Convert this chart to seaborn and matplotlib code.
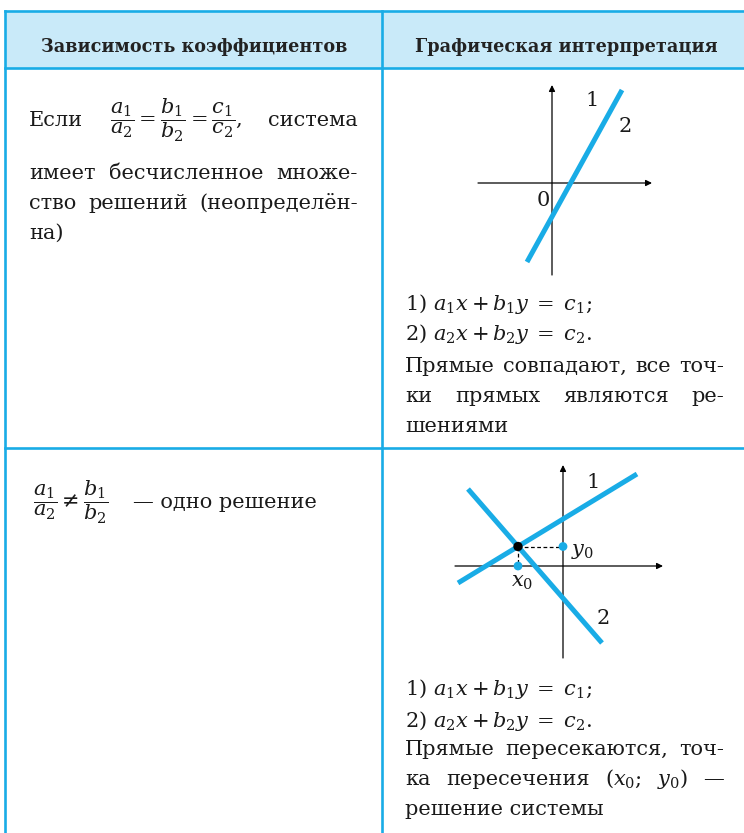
import matplotlib
matplotlib.use("Agg")
import matplotlib.pyplot as plt
from matplotlib.patches import Rectangle
from matplotlib.lines import Line2D
import seaborn as sns

W, H = 744, 833
sns.set_theme(style="white")
plt.rcParams["font.family"] = ["DejaVu Serif"]
plt.rcParams["mathtext.fontset"] = "dejavuserif"

# ---------------- data ----------------
header_labels = ["Зависимость коэффициентов", "Графическая интерпретация"]

row1_left = [
    (["Если", r"$\dfrac{a_1}{a_2}=\dfrac{b_1}{b_2}=\dfrac{c_1}{c_2}$,", "система"], True),
    (["имеет", "бесчисленное", "множе-"], True),
    (["ство", "решений", "(неопределён-"], True),
    (["на)"], False),
]
row1_right = [
    ([r"1) $a_1x+b_1y\;=\;c_1$;"], False),
    ([r"2) $a_2x+b_2y\;=\;c_2$."], False),
    (["Прямые", "совпадают,", "все", "точ-"], True),
    (["ки", "прямых", "являются", "ре-"], True),
    (["шениями"], False),
]
row2_left_formula = r"$\dfrac{a_1}{a_2}\neq\dfrac{b_1}{b_2}$"
row2_left_text = "— одно решение"
row2_right = [
    ([r"1) $a_1x+b_1y\;=\;c_1$;"], False),
    ([r"2) $a_2x+b_2y\;=\;c_2$."], False),
    (["Прямые", "пересекаются,", "точ-"], True),
    (["ка", "пересечения", r"($x_0$;", r"$y_0$)", "—"], True),
    (["решение", "системы"], False),
]

# diagram 1: coinciding lines (axis units)
coinc_x = [-2.5, 7.0]
coinc_y = [-7.9, 9.3]
d1_xaxis = [-7.4, 10.0]
d1_yaxis = [-9.2, 9.8]
d1_labels = [("1", 4.0, 8.3), ("2", 7.3, 5.6), ("0", -0.9, -1.7)]

# diagram 2: intersecting lines
line1_x = [-10.5, 7.4]
line1_y = [-1.7, 9.2]
line2_x = [-9.5, 3.9]
line2_y = [7.7, -7.7]
x0_val, y0_val = -4.5, 1.95
d2_xaxis = [-10.8, 10.0]
d2_yaxis = [-9.2, 10.1]
d2_labels = [("1", 3.0, 8.4), ("2", 4.0, -5.2)]

BLUE = "#19ace6"
HEAD = "#c9eaf9"
INK = "#1a1a1a"

# ---------------- figure ----------------
fig = plt.figure(figsize=(W / 100, H / 100), dpi=100)
fig.patch.set_facecolor("white")
R = fig.canvas.get_renderer()


def P(x, y):
    return (x / W, 1 - y / H)


# table
fig.patches.append(Rectangle(P(5, 68), (W - 5) / W, 57 / H, transform=fig.transFigure,
                             facecolor=HEAD, edgecolor="none", zorder=0))
blw = 1.9
for (xa, ya, xb, yb) in [(5, 11, W + 5, 11), (5, 68, W + 5, 68), (5, 448, W + 5, 448),
                         (5, 11, 5, H + 5), (382, 11, 382, H + 5)]:
    fig.add_artist(Line2D([xa / W, xb / W], [1 - ya / H, 1 - yb / H], transform=fig.transFigure,
                          color=BLUE, lw=blw, solid_capstyle="projecting"))


def fit_size(s, target, **kw):
    t = fig.text(0, 0, s, fontsize=10, **kw)
    w = t.get_window_extent(R).width
    t.remove()
    return 10 * target / w


BODY = fit_size("шениями", 103)
HSZ = fit_size(header_labels[0], 304, fontweight="bold")

fig.text(*P(194, 47), header_labels[0], fontsize=HSZ, fontweight="bold", ha="center",
         va="center", color="#222222")
fig.text(*P(566, 47), header_labels[1], fontsize=HSZ, fontweight="bold", ha="center",
         va="center", color="#222222")


def place(segments, justify, x_left, x_right, y_base, size=BODY):
    if not justify:
        fig.text(*P(x_left, y_base), " ".join(segments), fontsize=size, va="baseline",
                 ha="left", color=INK)
        return
    texts = [fig.text(*P(x_left, y_base), s, fontsize=size, va="baseline", ha="left",
                      color=INK) for s in segments]
    widths = [t.get_window_extent(R).width for t in texts]
    gap = (x_right - x_left - sum(widths)) / max(len(texts) - 1, 1)
    x = x_left
    for t, w in zip(texts, widths):
        t.set_position(P(x, y_base))
        x += w + gap


for (seg, j), yb in zip(row1_left, [126, 179, 209, 239]):
    place(seg, j, 29, 358, yb)
for (seg, j), yb in zip(row1_right, [310, 340, 372, 402, 432]):
    place(seg, j, 405, 724, yb)
for (seg, j), yb in zip(row2_right, [695, 727, 755, 785, 815]):
    place(seg, j, 405, 724, yb)
fig.text(*P(33, 508), row2_left_formula, fontsize=BODY, va="baseline", ha="left", color=INK)
fig.text(*P(133, 508), row2_left_text, fontsize=BODY, va="baseline", ha="left", color=INK)


def diagram(box, origin):
    x0p, y0p, x1p, y1p = box
    ox, oy = origin
    ax = fig.add_axes([x0p / W, 1 - y1p / H, (x1p - x0p) / W, (y1p - y0p) / H])
    ax.set_xlim((x0p - ox) / 10, (x1p - ox) / 10)
    ax.set_ylim((oy - y1p) / 10, (oy - y0p) / 10)
    ax.set_axis_off()
    ax.patch.set_alpha(0)
    return ax


def axes_arrows(ax, xr, yr):
    ap = dict(arrowstyle="-|>", color="black", lw=0.9, mutation_scale=9, shrinkA=0, shrinkB=0)
    ax.annotate("", xy=(xr[1], 0), xytext=(xr[0], 0), arrowprops=ap)
    ax.annotate("", xy=(0, yr[1]), xytext=(0, yr[0]), arrowprops=ap)


# diagram 1
ax1 = diagram((470, 80, 660, 280), (552, 183))
axes_arrows(ax1, d1_xaxis, d1_yaxis)
sns.lineplot(x=coinc_x, y=coinc_y, ax=ax1, color=BLUE, lw=3.6, sort=False, estimator=None,
             solid_capstyle="butt", zorder=3)
for s, lx, ly in d1_labels:
    ax1.text(lx, ly, s, fontsize=BODY, ha="center", va="center", color=INK)

# diagram 2
ax2 = diagram((445, 455, 670, 665), (563, 566))
axes_arrows(ax2, d2_xaxis, d2_yaxis)
sns.lineplot(x=line1_x, y=line1_y, ax=ax2, color=BLUE, lw=3.6, sort=False, estimator=None,
             solid_capstyle="butt", zorder=3)
sns.lineplot(x=line2_x, y=line2_y, ax=ax2, color=BLUE, lw=3.6, sort=False, estimator=None,
             solid_capstyle="butt", zorder=3)
ax2.plot([x0_val, 0], [y0_val, y0_val], color="black", lw=0.9, dashes=(3, 2), zorder=2)
ax2.plot([x0_val, x0_val], [y0_val, 0], color="black", lw=0.9, dashes=(3, 2), zorder=2)
sns.scatterplot(x=[0, x0_val], y=[y0_val, 0], ax=ax2, color=BLUE, s=40, edgecolor="none",
                zorder=4)
sns.scatterplot(x=[x0_val], y=[y0_val], ax=ax2, color="black", s=45, edgecolor="none", zorder=5)
for s, lx, ly in d2_labels:
    ax2.text(lx, ly, s, fontsize=BODY, ha="center", va="center", color=INK)
ax2.text(0.8, y0_val - 0.5, r"$y_0$", fontsize=BODY, ha="left", va="center", color=INK)
ax2.text(x0_val + 0.4, -1.7, r"$x_0$", fontsize=BODY, ha="center", va="center", color=INK)

fig.savefig("out.png", dpi=100, facecolor="white")
